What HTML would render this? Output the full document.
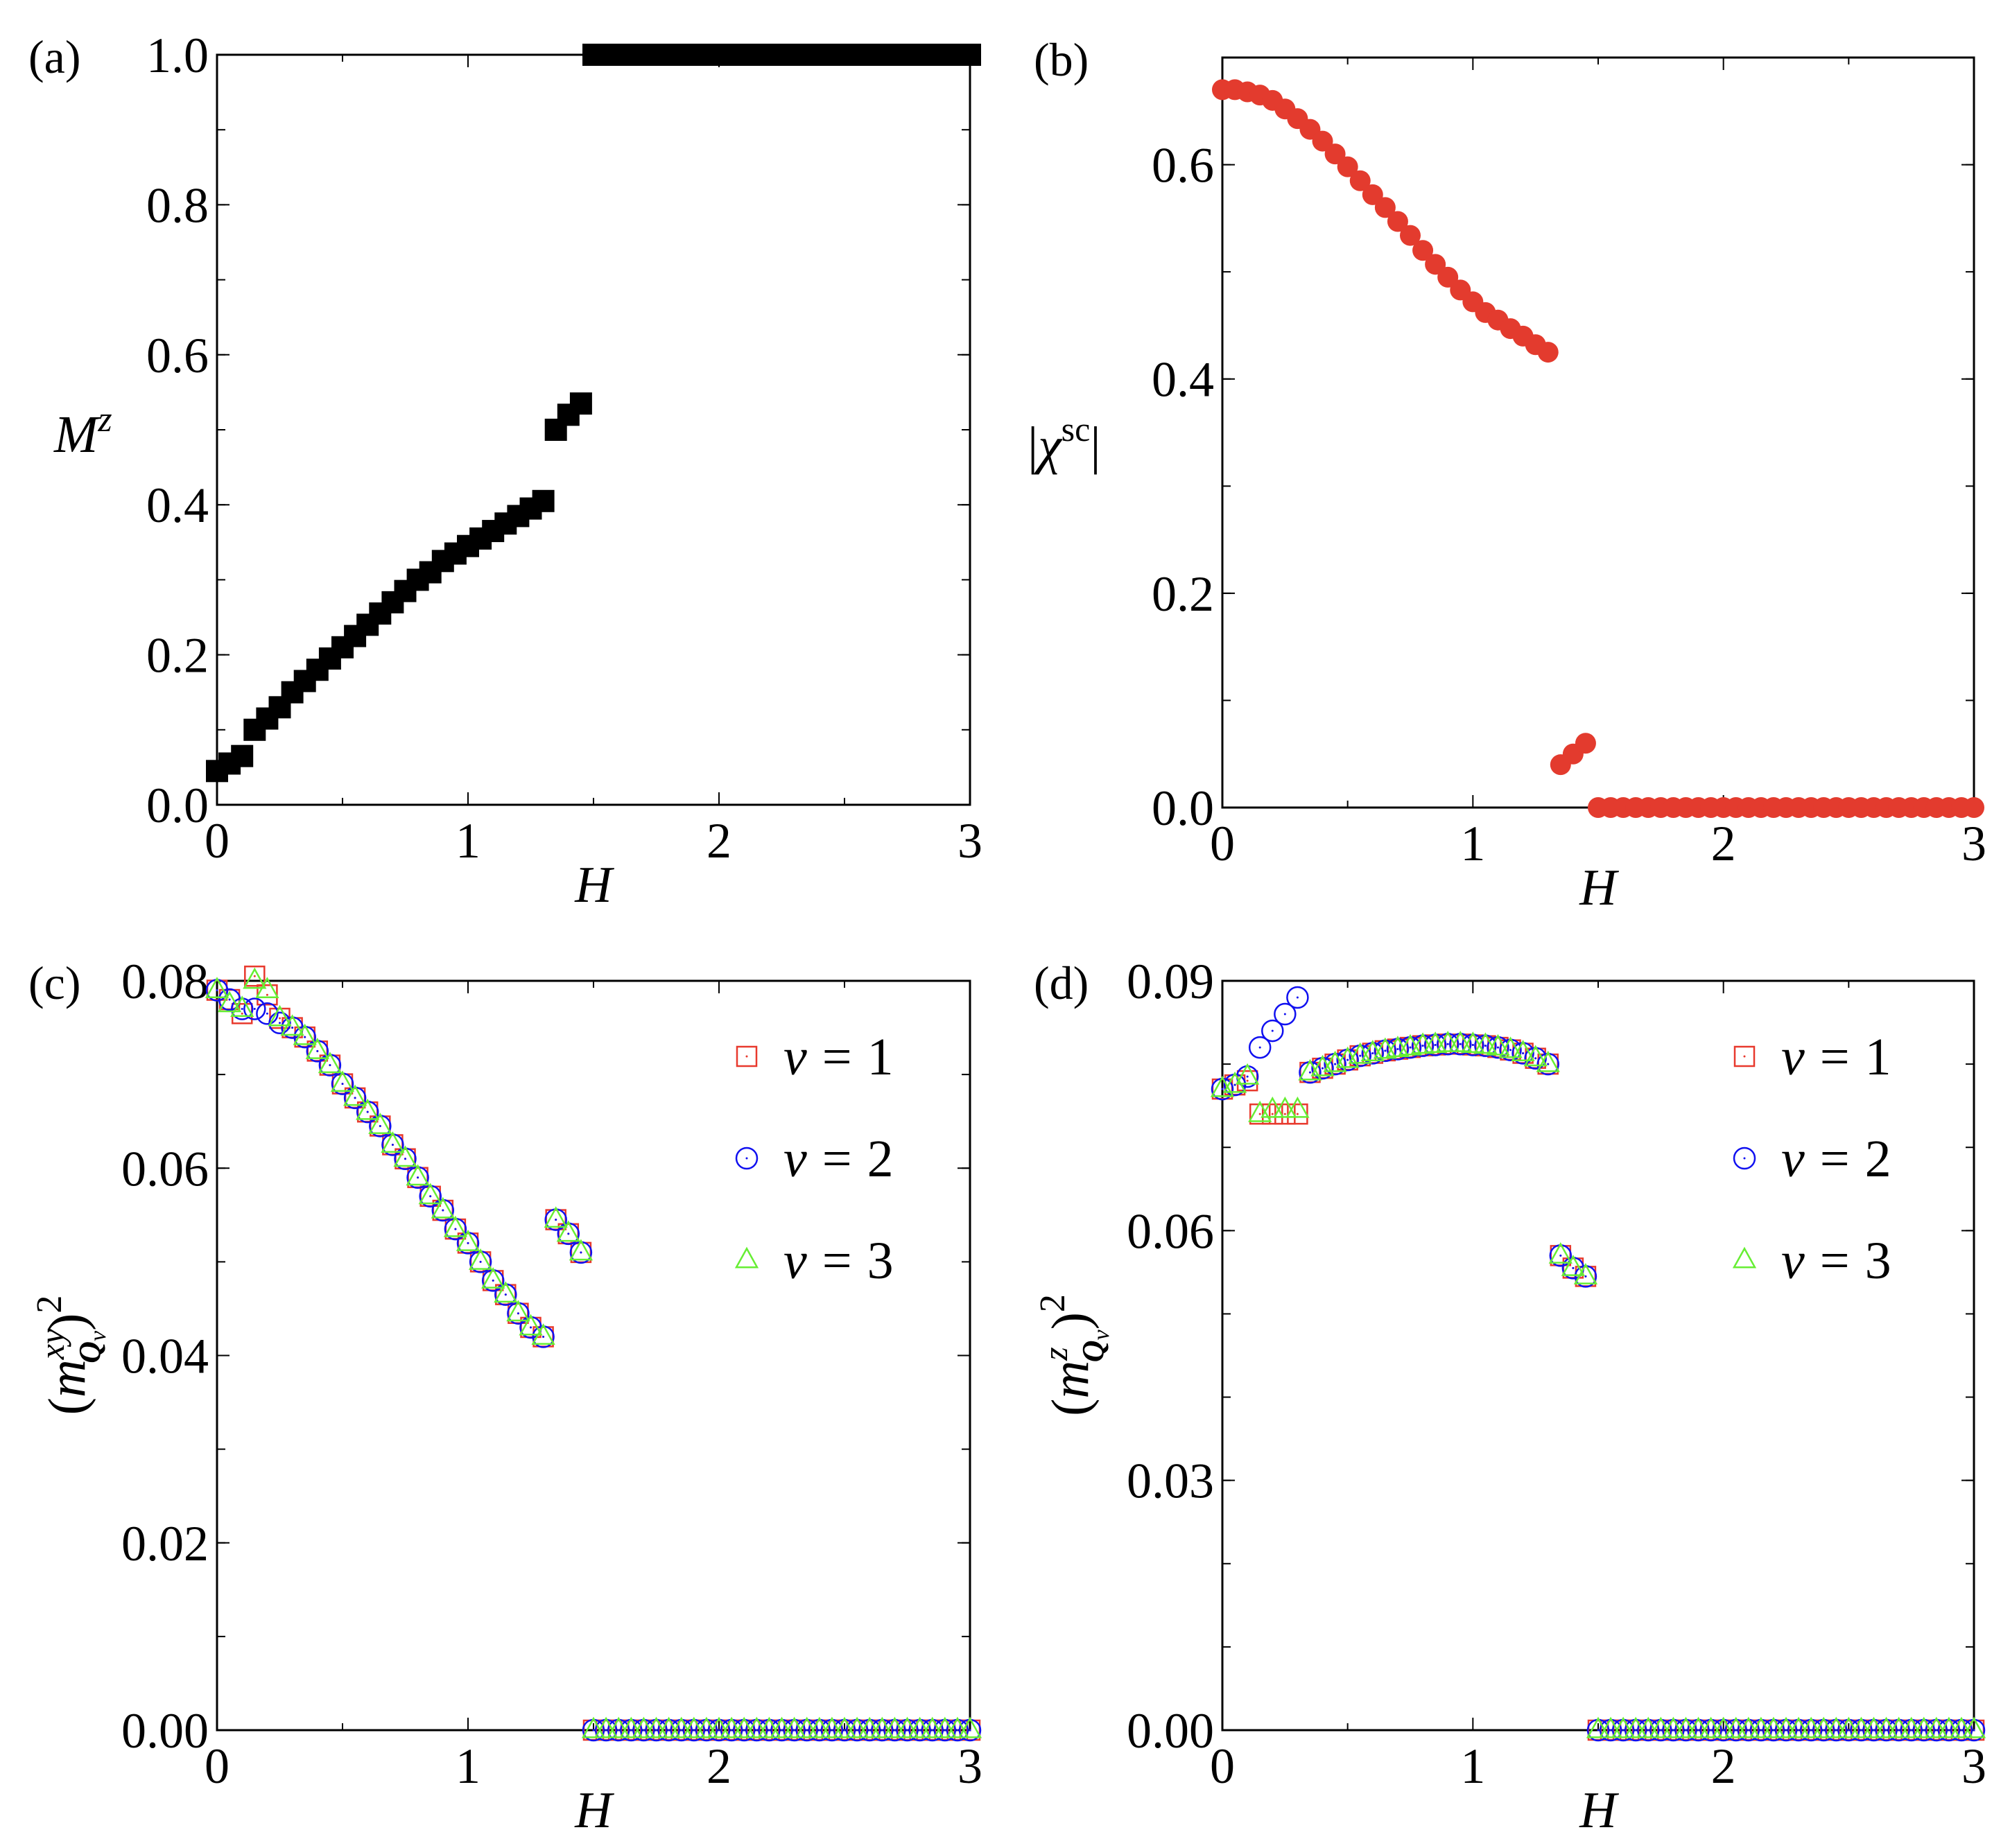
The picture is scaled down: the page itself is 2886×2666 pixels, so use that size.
<!DOCTYPE html>
<html><head><meta charset="utf-8">
<style>
html,body{margin:0;padding:0;background:#fff;}
svg{display:block;}
text{font-family:"Liberation Serif","DejaVu Serif",serif;}
</style></head>
<body>
<svg id="fig" width="2886" height="2666" viewBox="0 0 2886 2666" xmlns="http://www.w3.org/2000/svg" font-family="Liberation Serif, DejaVu Serif, serif"></svg>
<script>
// ---------- data ----------
const hLow = [0,0.05,0.1,0.15,0.2,0.25,0.3,0.35,0.4,0.45,0.5,0.55,0.6,0.65,0.7,0.75,0.8,0.85,0.9,0.95,1.0,1.05,1.1,1.15,1.2,1.25,1.3];
const hMid = [1.35,1.4,1.45];
const hHigh = [1.5,1.55,1.6,1.65,1.7,1.75,1.8,1.85,1.9,1.95,2.0,2.05,2.1,2.15,2.2,2.25,2.3,2.35,2.4,2.45,2.5,2.55,2.6,2.65,2.7,2.75,2.8,2.85,2.9,2.95,3.0];
const mzLow = [0.045,0.055,0.065,0.10,0.115,0.13,0.15,0.165,0.18,0.195,0.21,0.225,0.24,0.255,0.27,0.285,0.30,0.31,0.325,0.335,0.345,0.355,0.365,0.375,0.385,0.395,0.405];
const mzMid = [0.50,0.52,0.535];
const mzHigh = hHigh.map(()=>1.0);
const chiLow = [0.67,0.67,0.668,0.665,0.66,0.652,0.643,0.633,0.622,0.61,0.598,0.585,0.572,0.56,0.547,0.534,0.52,0.507,0.495,0.483,0.472,0.462,0.455,0.447,0.44,0.432,0.425];
const chiMid = [0.04,0.05,0.06];
const chiHigh = hHigh.map(()=>0);
const cCommon = [0.075,0.074,0.0725,0.071,0.069,0.0675,0.066,0.0645,0.0625,0.061,0.059,0.057,0.0555,0.0535,0.052,0.050,0.048,0.0465,0.0445,0.043,0.042];
const cNu1Start = [0.079,0.078,0.0765,0.0805,0.0785,0.076];
const cNu2Start = [0.079,0.078,0.077,0.077,0.0765,0.0755];
const cNu3Start = [0.079,0.0775,0.077,0.080,0.079,0.076];
const cMid = [0.0545,0.053,0.051];
const dCommon = [0.079,0.0795,0.08,0.0805,0.081,0.0813,0.0816,0.0818,0.082,0.0822,0.0823,0.0824,0.0824,0.0823,0.0822,0.082,0.0817,0.0813,0.0807,0.080];
const dNu1Start = [0.077,0.0775,0.078,0.074,0.074,0.074,0.074];
const dNu2Start = [0.077,0.0775,0.0785,0.082,0.084,0.086,0.088];
const dNu3Start = [0.077,0.0775,0.0785,0.074,0.0745,0.0745,0.0745];
const dMid = [0.057,0.0555,0.0545];
const xTicks = [0,1,2,3];
const yTicksA = [0,0.2,0.4,0.6,0.8,1.0];
const yTicksB = [0,0.2,0.4,0.6];
const yTicksC = [0,0.02,0.04,0.06,0.08];
const yTicksD = [0,0.03,0.06,0.09];

const NS="http://www.w3.org/2000/svg";
const svg=document.getElementById('fig');
const FF='"Liberation Serif","DejaVu Serif",serif';
function el(tag,attrs,parent){const e=document.createElementNS(NS,tag);for(const k in attrs)e.setAttribute(k,attrs[k]);if(tag==='text')e.style.fontFamily=FF;(parent||svg).appendChild(e);return e;}

function makePanel(name,L,R,T,B,ymax,yTicks,yMinor,yDec,label){
  const g=el('g',{});
  
  
  const sx=v=>L+(v/3)*(R-L);
  const sy=v=>B-(v/ymax)*(B-T);
  const ax=el('rect',{x:L,y:T,width:R-L,height:B-T,fill:'none',stroke:'#000','stroke-width':3},g);
  
  
  for(let v=0;v<=3.0001;v+=0.5){
    const major=Math.abs(v-Math.round(v))<1e-6; const len=major?18:10;
    el('line',{x1:sx(v),x2:sx(v),y1:B,y2:B-len,stroke:'#000','stroke-width':2},g);
    el('line',{x1:sx(v),x2:sx(v),y1:T,y2:T+len,stroke:'#000','stroke-width':2},g);
  }
  xTicks.forEach(v=>{const t=el('text',{x:sx(v),y:B+76,'font-size':72,'text-anchor':'middle'},g);t.textContent=String(v);
    });
  for(let v=0;v<=ymax+1e-9;v+=yMinor){
    el('line',{x1:L,x2:L+12,y1:sy(v),y2:sy(v),stroke:'#000','stroke-width':2},g);
    el('line',{x1:R,x2:R-12,y1:sy(v),y2:sy(v),stroke:'#000','stroke-width':2},g);
  }
  yTicks.forEach(v=>{
    el('line',{x1:L,x2:L+18,y1:sy(v),y2:sy(v),stroke:'#000','stroke-width':2},g);
    el('line',{x1:R,x2:R-18,y1:sy(v),y2:sy(v),stroke:'#000','stroke-width':2},g);
    const t=el('text',{x:L-12,y:sy(v)+25,'font-size':72,'text-anchor':'end'},g);t.textContent=v.toFixed(yDec);
    
  });
  const xl=el('text',{x:(L+R)/2,y:B+140,'font-size':74,'font-style':'italic','text-anchor':'middle'},g);xl.textContent='H';
  
  const pl=el('text',{x:L-272,y:T+26,'font-size':68},g);pl.textContent=label;
  
  return {g,sx,sy};
}

function sq(p,x,y,s,fill,stroke,nm){const r=el('rect',{x:x-s/2,y:y-s/2,width:s,height:s,fill:fill,stroke:stroke,'stroke-width':fill==='none'?2.5:0},p.g);return r;}
function circ(p,x,y,r,fill,stroke,nm){const c=el('circle',{cx:x,cy:y,r:r,fill:fill,stroke:stroke,'stroke-width':fill==='none'?2.5:0},p.g);return c;}
function tri(p,x,y,s,stroke,nm){const h=s*0.9;const t=el('polygon',{points:`${x},${y-h*0.62} ${x-s/2},${y+h*0.38} ${x+s/2},${y+h*0.38}`,fill:'none',stroke:stroke,'stroke-width':2.5},p.g);return t;}
function dot(p,x,y,c){el('circle',{cx:x,cy:y,r:1.5,fill:c},p.g);}

const RED='#e8392d',BLUE='#1010f0',GREEN='#66ee33';

// ---- Panel a ----
const pa=makePanel('panel-a-magnetization',313,1399,79,1161,1.0,yTicksA,0.1,1,'(a)');
[[hLow,mzLow],[hMid,mzMid],[hHigh,mzHigh]].forEach(([xs,ys])=>xs.forEach((h,i)=>sq(pa,pa.sx(h),pa.sy(ys[i]),32,'#000','none','mz-point')));
{const t=el('text',{x:78,y:652,'font-size':76,'font-style':'italic'},pa.g);t.innerHTML='M<tspan dy="-30" font-size="52">z</tspan>';
}

// ---- Panel b ----
const pb=makePanel('panel-b-chi-sc',1763,2847,83,1165,0.7,yTicksB,0.1,1,'(b)');
[[hLow,chiLow],[hMid,chiMid],[hHigh,chiHigh]].forEach(([xs,ys])=>xs.forEach((h,i)=>circ(pb,pb.sx(h),pb.sy(ys[i]),15,'#e33b2e','none','chi-point')));
{const t=el('text',{x:1482,y:668,'font-size':76},pb.g);t.innerHTML='|<tspan font-style="italic">χ</tspan><tspan dy="-32" font-size="50">sc</tspan><tspan dy="32">|</tspan>';
}

function hollowPanel(p,starts,common,mid){
  const n0=starts[0].length;
  const series=starts.map(s=>{const ys=s.slice();for(let i=n0;i<hLow.length;i++)ys.push(common[i-n0]);return ys;});
  const drawers=[
    (x,y)=>{sq(p,x,y,28,'none',RED,'nu1-point');dot(p,x,y,RED);},
    (x,y)=>{circ(p,x,y,15,'none',BLUE,'nu2-point');dot(p,x,y,BLUE);},
    (x,y)=>{tri(p,x,y,30,GREEN,'nu3-point');}
  ];
  series.forEach((ys,k)=>{
    hLow.forEach((h,i)=>drawers[k](p.sx(h),p.sy(ys[i])));
    hMid.forEach((h,i)=>drawers[k](p.sx(h),p.sy(mid[i])));
    hHigh.forEach(h=>drawers[k](p.sx(h),p.sy(0)));
  });
}
function legend(p,xm,xt){
  [1,2,3].forEach((n,i)=>{
    const y=1524+i*147;
    if(n===1){sq(p,xm,y,28,'none',RED,'legend-marker-nu1');dot(p,xm,y,RED);}
    if(n===2){circ(p,xm,y,15,'none',BLUE,'legend-marker-nu2');dot(p,xm,y,BLUE);}
    if(n===3){tri(p,xm,y,30,GREEN,'legend-marker-nu3');}
    const t=el('text',{x:xt,y:y+26,'font-size':76},p.g);
    t.innerHTML='<tspan font-style="italic">ν</tspan><tspan dx="22">=</tspan><tspan dx="22">'+n+'</tspan>';
    
  });
}

// ---- Panel c ----
const pc=makePanel('panel-c-mxy',313,1399,1415,2496,0.08,yTicksC,0.01,2,'(c)');
hollowPanel(pc,[cNu1Start,cNu2Start,cNu3Start],cCommon,cMid);
legend(pc,1077,1130);
{const t=el('text',{x:0,y:0,'font-size':76,transform:'translate(122,1955) rotate(-90)','text-anchor':'middle'},pc.g);
t.innerHTML='(<tspan font-style="italic">m</tspan><tspan dy="-30" font-size="50" font-style="italic">xy</tspan><tspan dx="-50" dy="52" font-size="44" font-weight="bold" font-style="italic">Q</tspan><tspan font-size="34" dy="8" font-style="italic">ν</tspan><tspan dy="-30">)</tspan><tspan dy="-34" font-size="52">2</tspan>';
}

// ---- Panel d ----
const pd=makePanel('panel-d-mz',1763,2847,1415,2496,0.09,yTicksD,0.01,2,'(d)');
hollowPanel(pd,[dNu1Start,dNu2Start,dNu3Start],dCommon,dMid);
legend(pd,2516,2569);
{const t=el('text',{x:0,y:0,'font-size':76,transform:'translate(1569,1955) rotate(-90)','text-anchor':'middle'},pd.g);
t.innerHTML='(<tspan font-style="italic">m</tspan><tspan dy="-30" font-size="50" font-style="italic">z</tspan><tspan dx="-22" dy="52" font-size="44" font-weight="bold" font-style="italic">Q</tspan><tspan font-size="34" dy="8" font-style="italic">ν</tspan><tspan dy="-30">)</tspan><tspan dy="-34" font-size="52">2</tspan>';
}
</script>
</body></html>
